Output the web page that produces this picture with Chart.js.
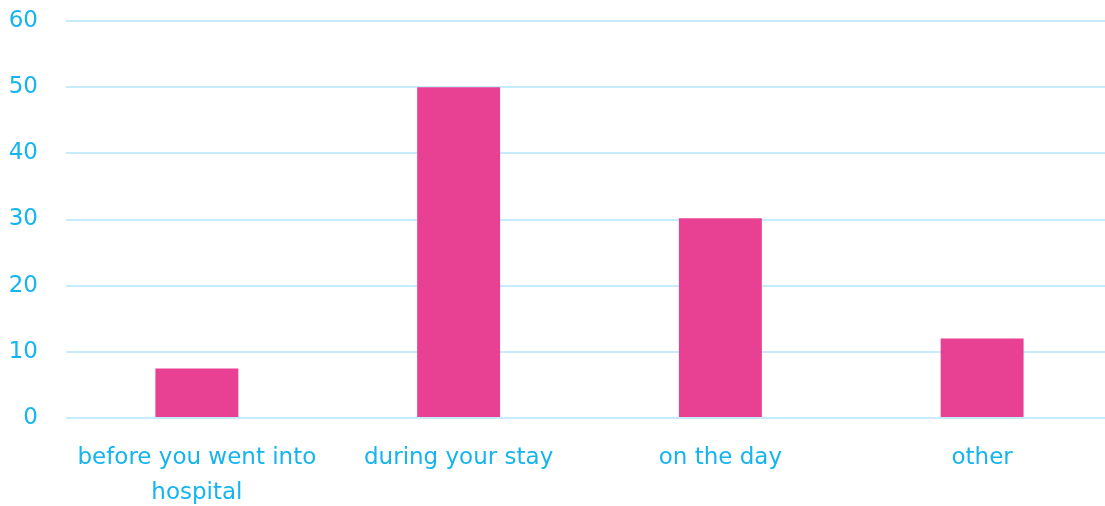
<!DOCTYPE html>
<html><head><meta charset="utf-8">
<script src="https://cdn.jsdelivr.net/npm/chart.js@4"></script>
<style>html,body{margin:0;padding:0;background:#fff;overflow:hidden;width:1105px;height:506px;}canvas{display:block;}</style>
</head><body>
<canvas id="c" width="1113" height="506"></canvas>
<script>
const categories = [['before you went into', 'hospital'], 'during your stay', 'on the day', 'other'];
const values = [7.5, 50, 30.2, 12];
const yTicks = [0, 10, 20, 30, 40, 50, 60];

const tickColor = '#14b4f0';
const gridColor = '#c6ebfb';

new Chart(document.getElementById('c'), {
  type: 'bar',
  data: {
    labels: categories,
    datasets: [{
      data: values,
      backgroundColor: '#e84093',
      borderWidth: 0,
      categoryPercentage: 0.8,
      barPercentage: 0.396
    }]
  },
  options: {
    responsive: false,
    animation: false,
    layout: {autoPadding: false, padding: {top: 21, right: 0, left: 0, bottom: 0}},
    plugins: {legend: {display: false}, tooltip: {enabled: false}},
    scales: {
      x: {
        grid: {display: false, drawTicks: false},
        border: {display: false},
        afterFit: (s) => { s.height = 88; s.paddingLeft = 0; s.paddingRight = 0; },
        ticks: {color: tickColor, font: {family: 'DejaVu Sans', size: 23, lineHeight: 1.52}, padding: 23, maxRotation: 0, autoSkip: false}
      },
      y: {
        min: 0, max: 60,
        afterBuildTicks: (s) => { s.ticks = yTicks.map(v => ({value: v})); },
        afterFit: (s) => { s.width = 66; s.paddingTop = 0; s.paddingBottom = 0; },
        grid: {color: gridColor, lineWidth: 2, drawTicks: false},
        border: {display: false},
        ticks: {color: tickColor, font: {family: 'DejaVu Sans', size: 23}, padding: 28}
      }
    }
  }
});
</script>
</body></html>
